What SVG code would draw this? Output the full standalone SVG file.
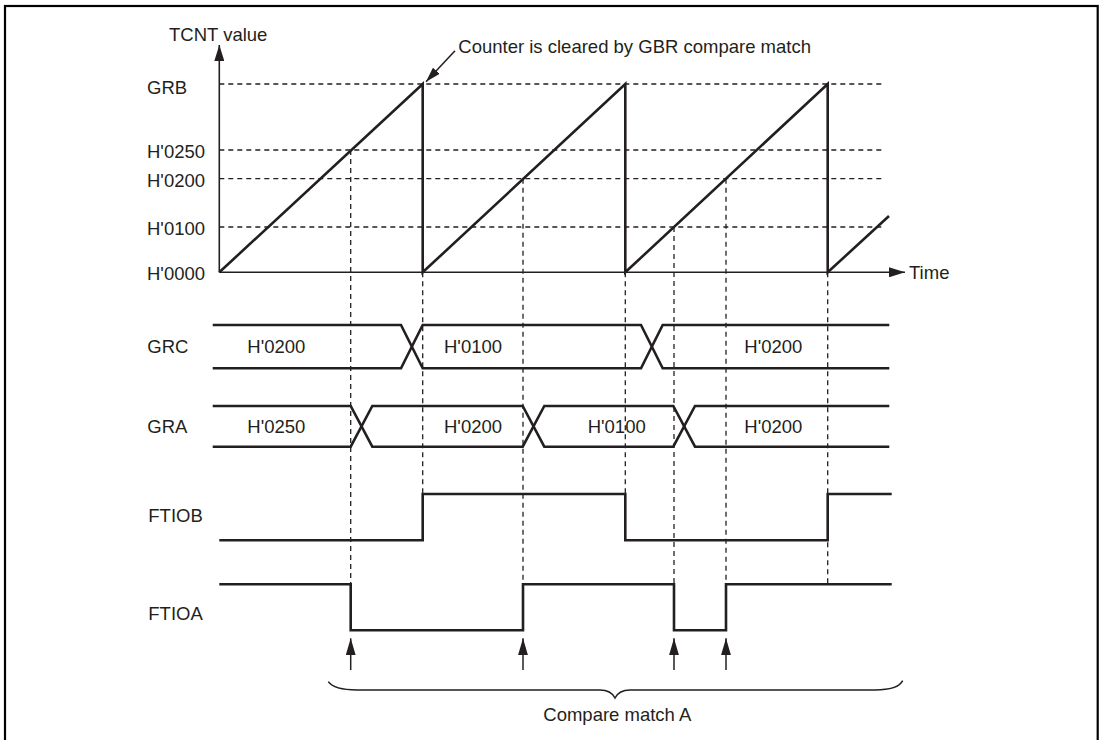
<svg xmlns="http://www.w3.org/2000/svg" width="1102" height="740" viewBox="0 0 1102 740">
<style>
text{font-family:"Liberation Sans",Arial,sans-serif;font-size:18.5px;fill:#231f20}
.sig{fill:none;stroke:#231f20;stroke-width:2.6;stroke-linejoin:miter}
.axis{fill:none;stroke:#231f20;stroke-width:1.6}
.dash{fill:none;stroke:#231f20;stroke-width:1.3;stroke-dasharray:5 4}
.thin{fill:none;stroke:#231f20;stroke-width:1.5}
</style>
<defs>
<marker id="ah" markerUnits="userSpaceOnUse" markerWidth="16" markerHeight="10" refX="16" refY="5" orient="auto">
<path d="M0,0 L16,5 L0,10 z" fill="#231f20"/>
</marker>
<marker id="ahs" markerUnits="userSpaceOnUse" markerWidth="15" markerHeight="9" refX="15" refY="4.5" orient="auto">
<path d="M0,0 L15,4.5 L0,9 z" fill="#231f20"/>
</marker>
<marker id="ahu" markerUnits="userSpaceOnUse" markerWidth="17" markerHeight="10" refX="17" refY="5" orient="auto">
<path d="M0,0 L17,5 L0,10 z" fill="#231f20"/>
</marker>
</defs>
<rect x="5" y="6" width="1092.7" height="740" fill="none" stroke="#000" stroke-width="2.2"/>

<g id="gridlines">
<path class="dash" d="M219.3,84 H884 M219.3,150 H884 M219.3,178.7 H884 M219.3,227 H884"/>
<path class="dash" d="M350.7,150 V584.3 M422.7,272.3 V494 M523,178.7 V584.3 M625.3,272.3 V494 M674,227 V584.3 M726,178.7 V584.3 M827.7,272.3 V584.3"/>
</g>

<g id="axes">
<line class="axis" x1="219.3" y1="272.3" x2="219.3" y2="45" marker-end="url(#ah)"/>
<line class="axis" x1="219.3" y1="272.3" x2="905" y2="272.3" marker-end="url(#ah)"/>
<text x="169" y="40.7">TCNT value</text>
<text x="909" y="278.5">Time</text>
<text x="147" y="93.5">GRB</text>
<text x="147" y="158.3">H'0250</text>
<text x="147" y="186.7">H'0200</text>
<text x="147" y="235">H'0100</text>
<text x="147" y="280">H'0000</text>
</g>

<g id="tcnt">
<path class="sig" d="M219.3,272.3 L422.7,84 V272.3 L625.3,84 V272.3 L827.7,84 V272.3 L889,216"/>
</g>

<g id="callout">
<line class="thin" x1="455" y1="50.7" x2="426" y2="81.7" marker-end="url(#ahs)"/>
<text x="458.3" y="53">Counter is cleared by GBR compare match</text>
</g>

<g id="grc">
<text x="147.3" y="353.3">GRC</text>
<path class="sig" d="M212.7,325 H401 L422.7,368.3 H641 L662.7,325 H889.3"/>
<path class="sig" d="M212.7,368.3 H401 L422.7,325 H641 L662.7,368.3 H889.3"/>
<text x="247.3" y="353.3">H'0200</text>
<text x="444" y="353.3">H'0100</text>
<text x="744.3" y="353.3">H'0200</text>
</g>

<g id="gra">
<text x="147.3" y="432.7">GRA</text>
<path class="sig" d="M212.7,406 H350.7 L372.3,446.7 H522.7 L544.3,406 H673.3 L695,446.7 H889.3"/>
<path class="sig" d="M212.7,446.7 H350.7 L372.3,406 H522.7 L544.3,446.7 H673.3 L695,406 H889.3"/>
<text x="247.3" y="432.7">H'0250</text>
<text x="444" y="432.7">H'0200</text>
<text x="587.7" y="432.7">H'0100</text>
<text x="744.3" y="432.7">H'0200</text>
</g>

<g id="ftiob">
<text x="148.3" y="521.7">FTIOB</text>
<path class="sig" d="M219.3,540.3 H422.7 V494 H625.3 V540.3 H827.7 V494 H891.7"/>
</g>

<g id="ftioa">
<text x="148.3" y="620">FTIOA</text>
<path class="sig" d="M219.3,584.3 H350.7 V630.3 H523 V584.3 H674 V630.3 H726 V584.3 H891.7"/>
</g>

<g id="compare-match">
<line class="thin" x1="350.7" y1="670" x2="350.7" y2="638.3" marker-end="url(#ahu)"/>
<line class="thin" x1="523" y1="670" x2="523" y2="638.3" marker-end="url(#ahu)"/>
<line class="thin" x1="674" y1="670" x2="674" y2="638.3" marker-end="url(#ahu)"/>
<line class="thin" x1="726" y1="670" x2="726" y2="638.3" marker-end="url(#ahu)"/>
<path class="thin" d="M328.3,681.7 Q334,690 357,690 H600 Q611,690 615,698 Q619,690 630,690 H875 Q898,690 902.7,680.7"/>
<text x="543.3" y="720.7">Compare match A</text>
</g>
</svg>
